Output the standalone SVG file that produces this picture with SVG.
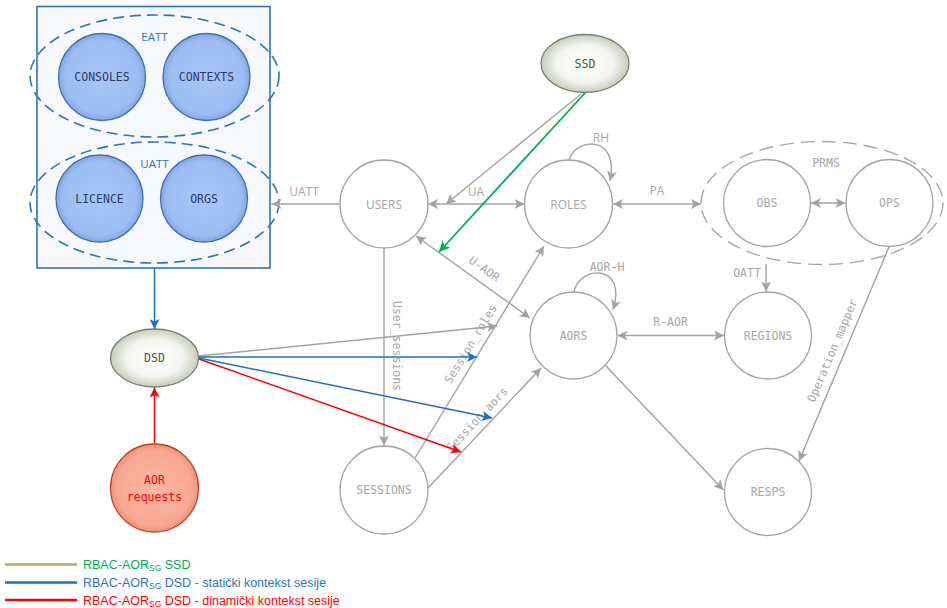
<svg xmlns="http://www.w3.org/2000/svg" width="947" height="608" viewBox="0 0 947 608">
<style>
.gn{fill:#ffffff;stroke:#a3a3a3;stroke-width:1.3}
.gt{font-family:"DejaVu Sans Mono","Liberation Mono",monospace;font-size:11.5px;fill:#a6a6a6;text-anchor:middle}
.gs{font-family:"Open Sans","Liberation Sans",sans-serif;font-size:12px;fill:#a6a6a6;text-anchor:middle}
.bt{font-family:"DejaVu Sans Mono","Liberation Mono",monospace;font-size:11.5px;fill:#2a3a6a;text-anchor:middle}
.bl{font-family:"Open Sans","Liberation Sans",sans-serif;font-size:11.5px;fill:#2e75b6;text-anchor:middle}
.bc{fill:url(#blueG);stroke:#3a72b0;stroke-width:1.3}
.de{fill:none;stroke:#2e75b6;stroke-width:1.6;stroke-dasharray:11 6}
.ge{fill:none;stroke:#a3a3a3;stroke-width:1.3;stroke-dasharray:14 7}
.cg{fill:none;stroke:#a3a3a3;stroke-width:1.4}
.cb{fill:none;stroke:#1f6fc0;stroke-width:1.5}
.cr{fill:none;stroke:#ff0000;stroke-width:1.5}
.cgr{fill:none;stroke:#00b050;stroke-width:1.8}
.ae{marker-end:url(#ag)}
.ad{marker-start:url(#ag);marker-end:url(#ag)}
.lg{font-family:"Liberation Sans","Open Sans",sans-serif;font-size:12.5px}
.ot{fill:url(#olG);stroke:#76806b;stroke-width:1.3}
.ott{font-family:"DejaVu Sans Mono","Liberation Mono",monospace;font-size:11.5px;fill:#4a5a3a;text-anchor:middle}
</style>
<defs>
<radialGradient id="blueG" cx="50%" cy="50%" r="50%">
<stop offset="0" stop-color="#a8c6f7"/><stop offset="0.85" stop-color="#9dbcf3"/><stop offset="1" stop-color="#86a7e0"/>
</radialGradient>
<radialGradient id="olG" cx="50%" cy="50%" r="50%">
<stop offset="0" stop-color="#ffffff"/><stop offset="0.65" stop-color="#f3f5ee"/><stop offset="1" stop-color="#c6cdba"/>
</radialGradient>
<radialGradient id="redG" cx="50%" cy="50%" r="50%">
<stop offset="0" stop-color="#fbb6a4"/><stop offset="0.85" stop-color="#f8a892"/><stop offset="1" stop-color="#ee927a"/>
</radialGradient>
<marker id="ag" viewBox="0 0 10 10" refX="10" refY="5" markerWidth="10" markerHeight="10" markerUnits="userSpaceOnUse" orient="auto-start-reverse"><path d="M0,0 L10,5 L0,10 L2.5,5 z" fill="#a3a3a3"/></marker>
<marker id="ab" viewBox="0 0 10 10" refX="10" refY="5" markerWidth="10" markerHeight="10" markerUnits="userSpaceOnUse" orient="auto"><path d="M0,0 L10,5 L0,10 L2.5,5 z" fill="#1f6fc0"/></marker>
<marker id="ar" viewBox="0 0 10 10" refX="10" refY="5" markerWidth="10" markerHeight="10" markerUnits="userSpaceOnUse" orient="auto"><path d="M0,0 L10,5 L0,10 L2.5,5 z" fill="#ff0000"/></marker>
<marker id="agr" viewBox="0 0 10 10" refX="10" refY="5" markerWidth="11" markerHeight="11" markerUnits="userSpaceOnUse" orient="auto"><path d="M0,0 L10,5 L0,10 L2.5,5 z" fill="#00b050"/></marker>
</defs>
<rect width="947" height="608" fill="#ffffff"/>

<g id="attributes">
<rect x="37" y="6.5" width="233" height="261.5" fill="#f6f8fb" stroke="#2e75b6" stroke-width="1.6"/>
<ellipse class="de" cx="154.5" cy="76" rx="124.5" ry="61"/>
<ellipse class="de" cx="154.5" cy="202.5" rx="124.5" ry="60.5"/>
<text class="bl" x="154.5" y="41">EATT</text>
<text class="bl" x="154.5" y="168">UATT</text>
<g id="consoles"><circle class="bc" cx="102" cy="77" r="43.5"/><text class="bt" x="102" y="81">CONSOLES</text></g>
<g id="contexts"><circle class="bc" cx="206.5" cy="77" r="43.5"/><text class="bt" x="206.5" y="81">CONTEXTS</text></g>
<g id="licence"><circle class="bc" cx="99.5" cy="198.5" r="43.5"/><text class="bt" x="99.5" y="202.5">LICENCE</text></g>
<g id="orgs"><circle class="bc" cx="204" cy="198.5" r="43.5"/><text class="bt" x="204" y="202.5">ORGS</text></g>
</g>

<g id="connectors">
<line class="cg ae" x1="340" y1="204" x2="271.5" y2="204"/>
<text class="gs" x="304" y="196">UATT</text>
<line class="cg ad" x1="428" y1="204" x2="524.5" y2="204"/>
<text class="gs" x="476" y="196">UA</text>
<line class="cg ad" x1="613" y1="204" x2="701" y2="204"/>
<text class="gs" x="657" y="195">PA</text>
<path class="cg ae" d="M569,161 C574,137 620,134 610,181"/>
<text class="gs" x="601" y="142">RH</text>
<line class="cg ad" x1="811" y1="203" x2="845.5" y2="203"/>
<line class="cg ae" x1="766" y1="264" x2="766" y2="291.5"/>
<text class="gt" x="747" y="277">OATT</text>
<line class="cg ad" x1="617.5" y1="335.5" x2="724" y2="335.5"/>
<text class="gt" x="670.5" y="326">R-AOR</text>
<path class="cg ae" d="M574,292 C579,265 628,263 613,310"/>
<text class="gt" x="607" y="271">AOR-H</text>
<line class="cg ad" x1="416" y1="236" x2="530" y2="318"/>
<text class="gt" transform="translate(482,272) rotate(35.7)" x="0" y="0">U-AOR</text>
<line class="cg ae" x1="384" y1="248" x2="384" y2="445.5"/>
<text class="gt" transform="translate(393,346) rotate(90)" x="0" y="0">User_sessions</text>
<line class="cg ae" x1="415" y1="458" x2="544" y2="246"/>
<text class="gt" transform="translate(474,346) rotate(-58.8)" x="0" y="0">Session_roles</text>
<line class="cg ae" x1="428" y1="488" x2="541" y2="368"/>
<text class="gt" transform="translate(480,422) rotate(-46.7)" x="0" y="0">Session_aors</text>
<line class="cg ae" x1="606" y1="366" x2="723.5" y2="490"/>
<line class="cg ae" x1="889" y1="247" x2="799" y2="461"/>
<text class="gt" transform="translate(836,352) rotate(-67)" x="0" y="0">Operation_mapper</text>
<line class="cg ae" x1="581" y1="94" x2="446" y2="204"/>
<line class="cgr" x1="585" y1="93" x2="439" y2="252" marker-end="url(#agr)"/>
<line class="cg ae" x1="199" y1="356" x2="497" y2="326"/>
<line class="cb" x1="199" y1="357" x2="477" y2="357" marker-end="url(#ab)"/>
<line class="cb" x1="199" y1="358" x2="492" y2="418" marker-end="url(#ab)"/>
<line class="cr" x1="199" y1="359" x2="461" y2="452" marker-end="url(#ar)"/>
<line class="cb" x1="154.5" y1="268" x2="154.5" y2="329" marker-end="url(#ab)"/>
<line class="cr" x1="154.5" y1="444" x2="154.5" y2="387.5" marker-end="url(#ar)"/>
</g>

<g id="ssd"><ellipse class="ot" cx="585" cy="63.5" rx="44" ry="29"/><text class="ott" x="585" y="67.5">SSD</text></g>
<g id="dsd"><ellipse class="ot" cx="154.5" cy="358" rx="44" ry="29"/><text class="ott" x="154.5" y="362">DSD</text></g>
<g id="aor-requests"><circle cx="154.5" cy="488" r="44" fill="url(#redG)" stroke="#c0442a" stroke-width="1.3"/>
<text class="gt" style="fill:#ff0000" x="154.5" y="484">AOR</text><text class="gt" style="fill:#ff0000" x="154.5" y="501">requests</text></g>
<g id="users"><circle class="gn" cx="384" cy="204" r="44"/><text class="gs" x="384" y="208.5">USERS</text></g>
<g id="roles"><circle class="gn" cx="568.5" cy="204" r="44"/><text class="gs" x="568.5" y="208.5">ROLES</text></g>
<g id="prms"><ellipse class="ge" cx="822" cy="203" rx="121" ry="61.5"/><text class="gt" x="826" y="167">PRMS</text></g>
<g id="obs"><circle class="gn" cx="767" cy="203" r="43.5"/><text class="gt" x="767" y="207">OBS</text></g>
<g id="ops"><circle class="gn" cx="889.5" cy="203" r="43.5"/><text class="gt" x="889.5" y="207">OPS</text></g>
<g id="aors"><circle class="gn" cx="573.5" cy="335.5" r="43.5"/><text class="gt" x="573.5" y="339.5">AORS</text></g>
<g id="regions"><circle class="gn" cx="768" cy="335.5" r="43.5"/><text class="gt" x="768" y="339.5">REGIONS</text></g>
<g id="sessions"><circle class="gn" cx="384" cy="490" r="44"/><text class="gt" x="384" y="494">SESSIONS</text></g>
<g id="resps"><circle class="gn" cx="768" cy="492" r="43.5"/><text class="gt" x="768" y="496">RESPS</text></g>

<g id="legend">
<line x1="5" y1="564.5" x2="77" y2="564.5" stroke="#9bbb59" stroke-width="2.5"/>
<line x1="5" y1="582.5" x2="77" y2="582.5" stroke="#1f6fc0" stroke-width="2.5"/>
<line x1="5" y1="600" x2="77" y2="600" stroke="#ff0000" stroke-width="2.5"/>
<text class="lg" x="83" y="569" fill="#00b050">RBAC-AOR<tspan font-size="8.5px" dy="2">SG</tspan><tspan dy="-2"> SSD</tspan></text>
<text class="lg" x="83" y="587" fill="#2e75b6">RBAC-AOR<tspan font-size="8.5px" dy="2">SG</tspan><tspan dy="-2"> DSD - statički kontekst sesije</tspan></text>
<text class="lg" x="83" y="604.5" fill="#ff0000">RBAC-AOR<tspan font-size="8.5px" dy="2">SG</tspan><tspan dy="-2"> DSD - dinamički kontekst sesije</tspan></text>
</g>
</svg>
